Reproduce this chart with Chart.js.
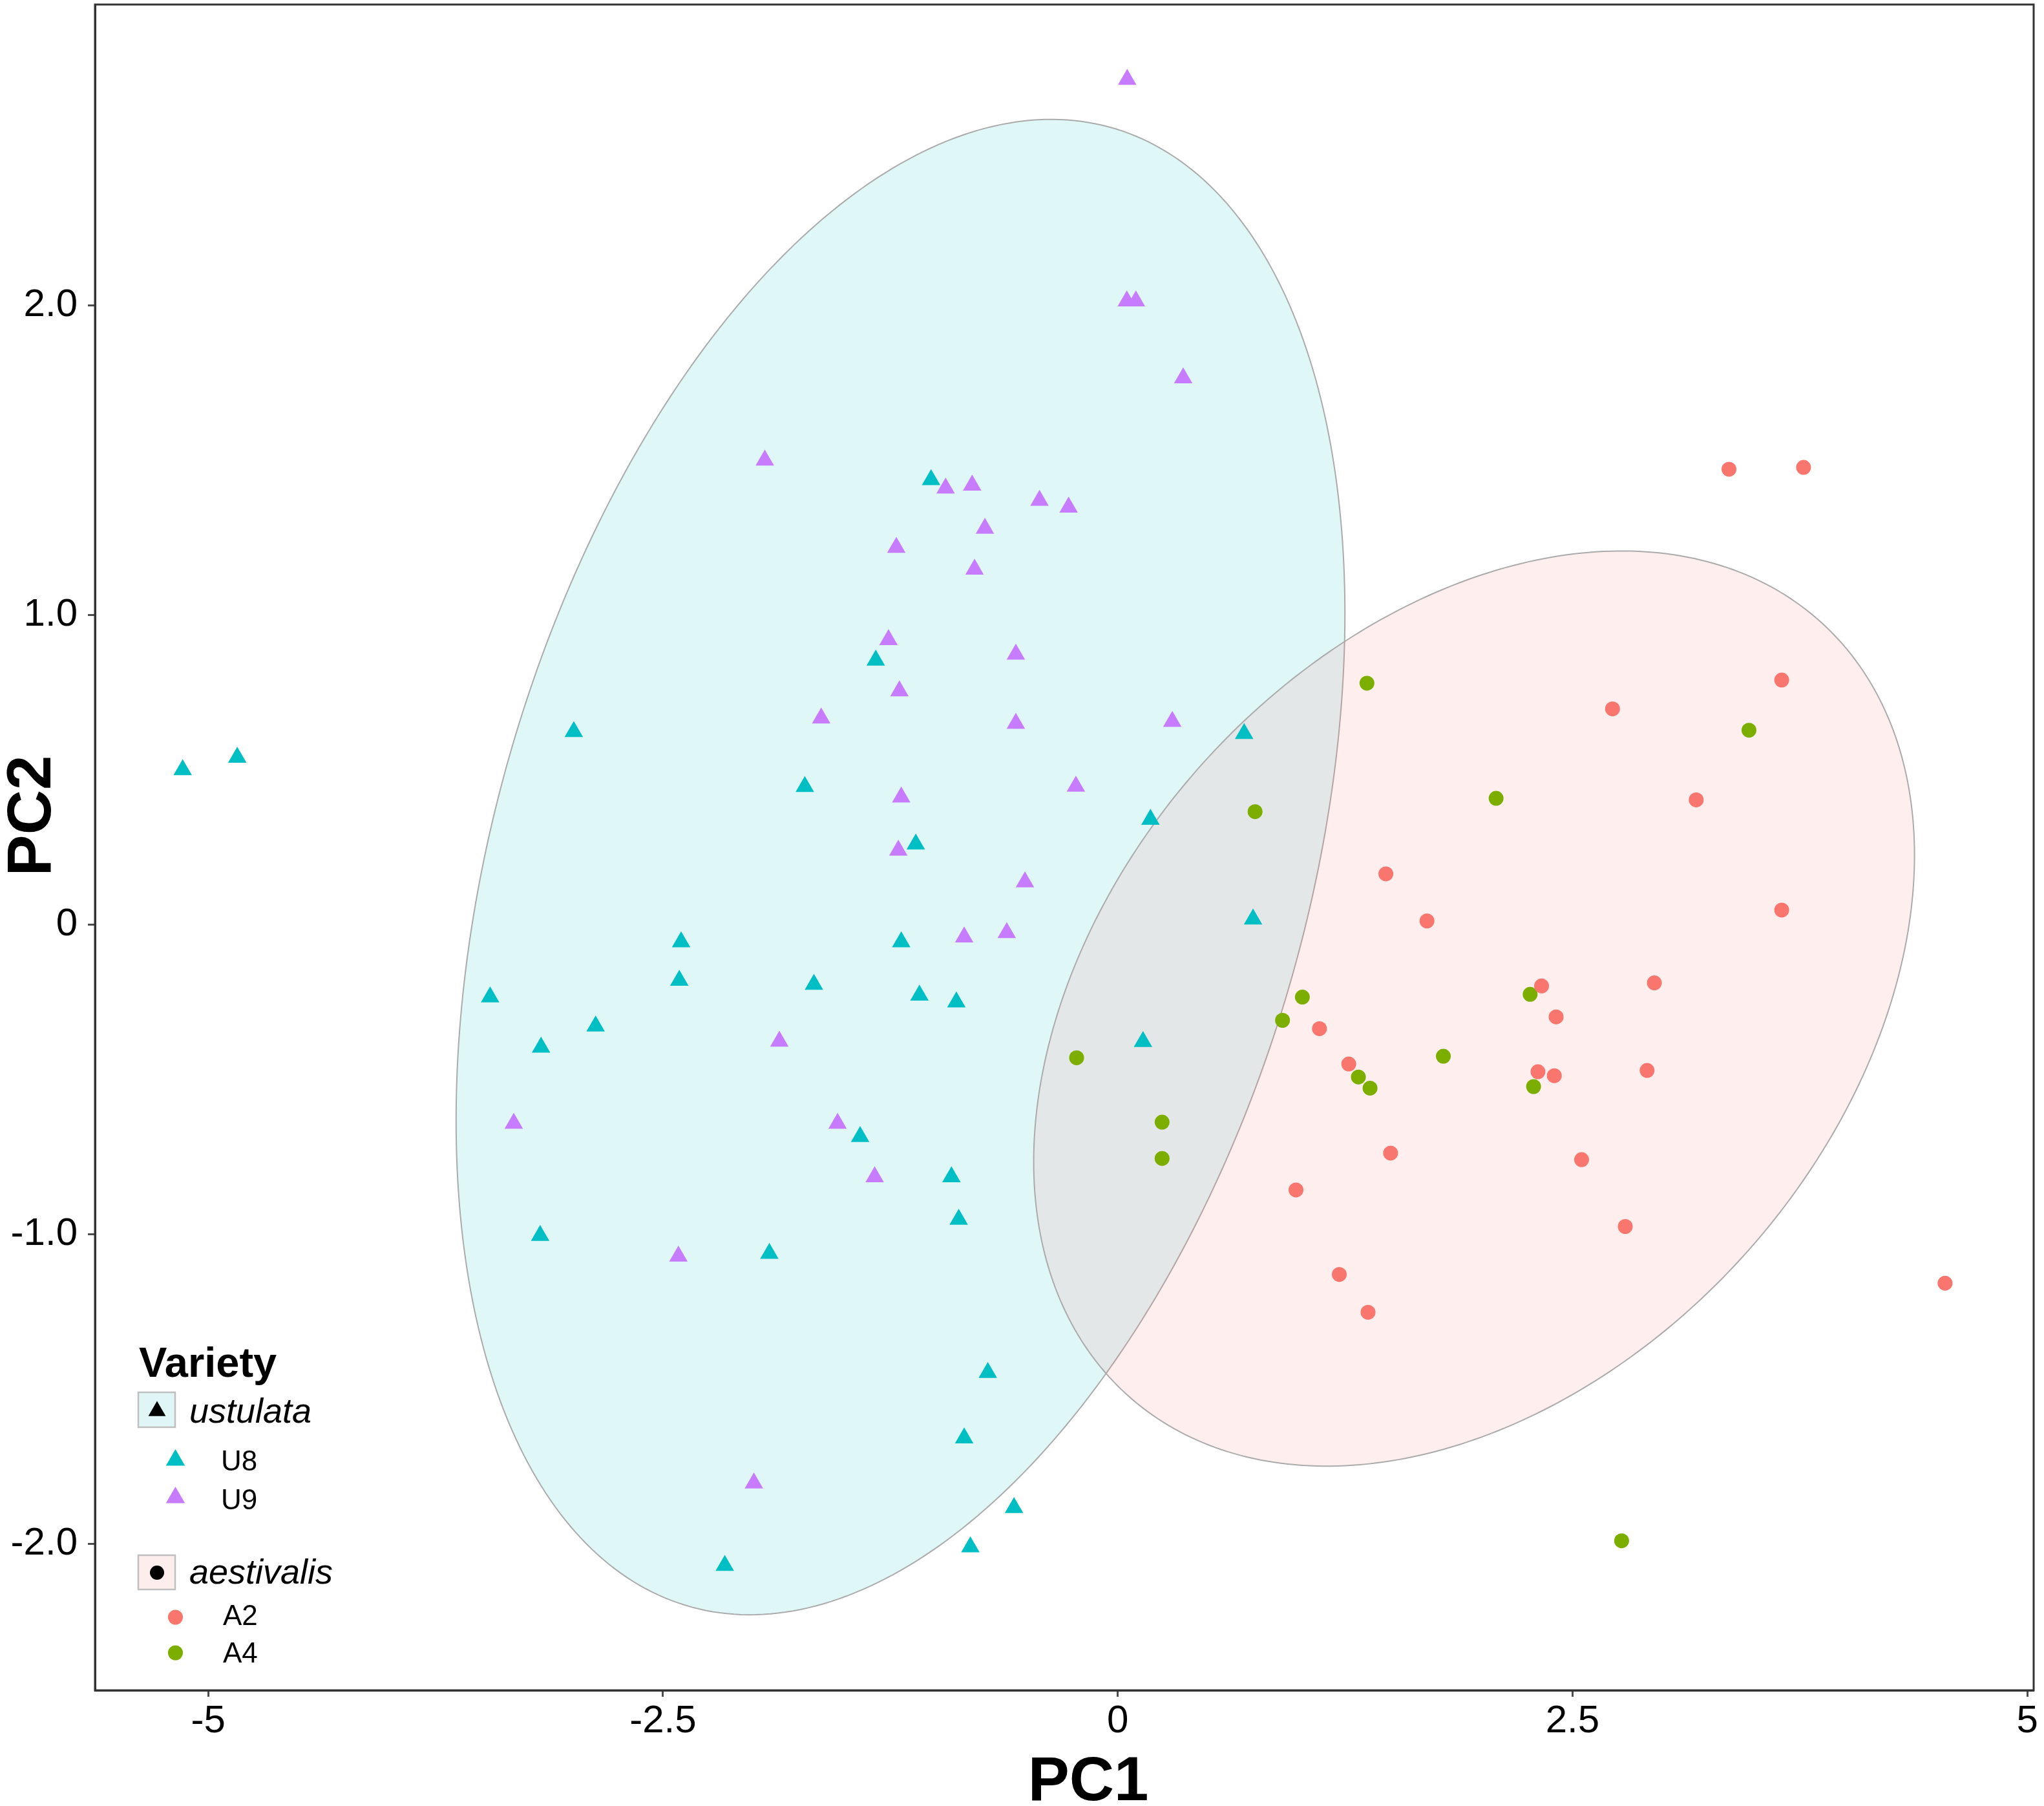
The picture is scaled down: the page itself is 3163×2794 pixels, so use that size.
<!DOCTYPE html>
<html>
<head>
<meta charset="utf-8">
<script src="https://cdn.jsdelivr.net/npm/chart.js@4.4.1/dist/chart.umd.min.js"></script>
<style>
html,body{margin:0;padding:0;background:#fff;}
canvas{display:block;}
</style>
</head>
<body>
<canvas id="c" width="3163" height="2794" style="width:3163px;height:2794px"></canvas>
<script>
// ---------- data ----------
const xTicks = [-5, -2.5, 0, 2.5, 5];
const xTickLabels = ['-5', '-2.5', '0', '2.5', '5'];
const yTicks = [-2, -1, 0, 1, 2];
const yTickLabels = ['-2.0', '-1.0', '0', '1.0', '2.0'];
const xTitle = 'PC1';
const yTitle = 'PC2';
const legendTitle = 'Variety';
const groupNames = ['ustulata', 'aestivalis'];
const seriesNames = ['U8', 'U9', 'A2', 'A4'];

const u8Points = [[-5.14,0.50],[-4.84,0.54],[-2.99,0.623],[-3.45,-0.234],[-3.17,-0.396],[-2.87,-0.328],
  [-3.175,-1.004],[-2.40,-0.056],[-2.41,-0.18],[-1.72,0.446],[-1.67,-0.193],[-1.915,-1.062],[-2.16,-2.07],
  [-1.416,-0.685],[-1.33,0.854],[-1.026,1.437],[-1.11,0.26],[-1.19,-0.056],[-1.09,-0.228],[-0.887,-0.25],
  [-0.914,-0.815],[-0.874,-0.952],[-0.714,-1.447],[-0.844,-1.658],[-0.81,-2.01],[-0.57,-1.883],
  [0.18,0.34],[0.139,-0.378],[0.695,0.617],[0.744,0.018]];
const u9Points = [[0.052,2.73],[0.05,2.014],[0.10,2.014],[0.36,1.766],[-1.94,1.50],[-0.946,1.41],[-0.80,1.419],
  [-0.43,1.37],[-0.27,1.348],[-0.73,1.28],[-1.217,1.218],[-0.787,1.148],[-1.26,0.92],[-0.56,0.873],[-1.20,0.755],
  [-1.63,0.667],[-0.56,0.65],[0.30,0.656],[-1.19,0.412],[-0.23,0.447],[-1.206,0.24],[-0.51,0.138],[-0.844,-0.04],
  [-0.61,-0.026],[-1.86,-0.377],[-3.32,-0.642],[-1.54,-0.642],[-1.336,-0.815],[-2.415,-1.071],[-2.0,-1.804]];
const a2Points = [[3.36,1.471],[3.77,1.477],[2.72,0.697],[3.65,0.79],[3.18,0.403],[1.474,0.164],[1.70,0.012],
  [3.65,0.047],[2.33,-0.198],[2.41,-0.298],[2.95,-0.188],[1.109,-0.336],[1.27,-0.45],[2.31,-0.475],[2.40,-0.488],
  [2.91,-0.471],[1.50,-0.738],[2.55,-0.759],[0.98,-0.857],[2.79,-0.975],[1.218,-1.13],[1.376,-1.252],[4.548,-1.158]];
const a4Points = [[1.37,0.78],[3.47,0.628],[2.08,0.408],[0.755,0.365],[1.015,-0.234],[0.906,-0.309],[2.267,-0.225],
  [1.79,-0.425],[-0.226,-0.43],[1.323,-0.492],[1.387,-0.528],[2.286,-0.523],[0.244,-0.638],[0.244,-0.755],[2.77,-1.99]];

// ellipse: [centerX, centerY, halfWidthX, halfHeightY, correlation]
const ustulataEllipse = [-1.194, 0.186, 2.443, 2.415, 0.339];
const aestivalisEllipse = [1.959, -0.271, 2.421, 1.478, 0.335];

// ---------- styles ----------
const FONT = "'Liberation Sans', Arial, Helvetica, sans-serif";
const COL = {U8:'#00BFC4', U9:'#C77CFF', A2:'#F8766D', A4:'#7CAE00'};
const toXY = arr => arr.map(p => ({x:p[0], y:p[1]}));

function ellipsePath(chart, p) {
  const sx = chart.scales.x, sy = chart.scales.y, ctx = chart.ctx;
  const [cx, cy, ax, ay, rho] = p;
  const q = Math.sqrt(1 - rho * rho);
  ctx.beginPath();
  for (let i = 0; i <= 360; i++) {
    const t = i * Math.PI / 180;
    const px = sx.getPixelForValue(cx + ax * Math.cos(t));
    const py = sy.getPixelForValue(cy + ay * (rho * Math.cos(t) + q * Math.sin(t)));
    if (i === 0) ctx.moveTo(px, py); else ctx.lineTo(px, py);
  }
  ctx.closePath();
}

const ellipsePlugin = {
  id: 'ellipses',
  beforeDatasetsDraw(chart) {
    const ctx = chart.ctx, a = chart.chartArea;
    ctx.save();
    ctx.beginPath(); ctx.rect(a.left, a.top, a.right - a.left, a.bottom - a.top); ctx.clip();
    [[ustulataEllipse, 'rgba(0,191,196,0.12)'], [aestivalisEllipse, 'rgba(248,118,109,0.12)']].forEach(([p, f]) => {
      ellipsePath(chart, p);
      ctx.fillStyle = f; ctx.fill();
      ctx.strokeStyle = '#ababab'; ctx.lineWidth = 2; ctx.stroke();
    });
    ctx.restore();
  }
};

function tri(ctx, x, y, r, color) {
  ctx.beginPath();
  for (let k = 0; k < 3; k++) {
    const ang = k * 2 * Math.PI / 3;
    const px = x + Math.sin(ang) * r, py = y - Math.cos(ang) * r;
    if (k === 0) ctx.moveTo(px, py); else ctx.lineTo(px, py);
  }
  ctx.closePath(); ctx.fillStyle = color; ctx.fill();
}
function dot(ctx, x, y, r, color) {
  ctx.beginPath(); ctx.arc(x, y, r, 0, Math.PI * 2); ctx.fillStyle = color; ctx.fill();
}

const decorPlugin = {
  id: 'decor',
  afterDraw(chart) {
    const ctx = chart.ctx, a = chart.chartArea;
    ctx.save();
    // panel border
    ctx.strokeStyle = '#333'; ctx.lineWidth = 3;
    ctx.strokeRect(a.left, a.top, a.right - a.left, a.bottom - a.top);
    // axis titles
    ctx.fillStyle = '#000';
    ctx.font = 'bold 96px ' + FONT;
    ctx.textAlign = 'center'; ctx.textBaseline = 'alphabetic';
    ctx.fillText(xTitle, 1684, 2785);
    ctx.save();
    ctx.translate(78, 1262); ctx.rotate(-Math.PI / 2);
    ctx.fillText(yTitle, 0, 0);
    ctx.restore();
    // legend
    ctx.textAlign = 'left';
    ctx.font = 'bold 65px ' + FONT;
    ctx.fillText(legendTitle, 215, 2130);
    // group key boxes
    ctx.lineWidth = 2.5; ctx.strokeStyle = '#bfbfbf';
    ctx.fillStyle = '#e0f5f6'; ctx.fillRect(214, 2154, 57, 54); ctx.strokeRect(214, 2154, 57, 54);
    tri(ctx, 243, 2183, 15.5, '#000');
    ctx.fillStyle = '#fdeeed'; ctx.fillRect(214, 2406, 57, 53); ctx.strokeRect(214, 2406, 57, 53);
    dot(ctx, 243, 2433, 11, '#000');
    ctx.fillStyle = '#000';
    ctx.font = 'italic 54px ' + FONT;
    ctx.fillText(groupNames[0], 293, 2201);
    ctx.fillText(groupNames[1], 293, 2450);
    // series keys
    tri(ctx, 271.5, 2259, 17, COL.U8);
    tri(ctx, 271.5, 2317, 17, COL.U9);
    dot(ctx, 271.5, 2502, 11.5, COL.A2);
    dot(ctx, 271.5, 2557, 11.5, COL.A4);
    ctx.fillStyle = '#000';
    ctx.font = '44px ' + FONT;
    ctx.fillText(seriesNames[0], 342, 2275);
    ctx.fillText(seriesNames[1], 342, 2335);
    ctx.fillText(seriesNames[2], 345, 2514);
    ctx.fillText(seriesNames[3], 345, 2572);
    ctx.restore();
  }
};

const zeroPad = s => { s.paddingTop = 0; s.paddingBottom = 0; s.paddingLeft = 0; s.paddingRight = 0; };

const axisCommon = {
  type: 'linear',
  border: {display: true, color: '#333', width: 3},
  grid: {drawOnChartArea: false, drawTicks: true, color: '#4d4d4d', tickColor: '#4d4d4d', tickWidth: 3},
  title: {display: false}
};

new Chart(document.getElementById('c'), {
  type: 'scatter',
  data: {
    datasets: [
      {label: seriesNames[0], data: toXY(u8Points), pointStyle: 'triangle', pointRadius: 16.5, pointHoverRadius: 16.5, backgroundColor: COL.U8, borderWidth: 0},
      {label: seriesNames[1], data: toXY(u9Points), pointStyle: 'triangle', pointRadius: 16.5, pointHoverRadius: 16.5, backgroundColor: COL.U9, borderWidth: 0},
      {label: seriesNames[2], data: toXY(a2Points), pointStyle: 'circle', pointRadius: 11.5, pointHoverRadius: 11.5, backgroundColor: COL.A2, borderWidth: 0},
      {label: seriesNames[3], data: toXY(a4Points), pointStyle: 'circle', pointRadius: 11.5, pointHoverRadius: 11.5, backgroundColor: COL.A4, borderWidth: 0}
    ]
  },
  options: {
    responsive: false,
    animation: false,
    devicePixelRatio: 1,
    layout: {autoPadding: false, padding: {top: 7, right: 16, left: 0, bottom: 0}},
    plugins: {legend: {display: false}, tooltip: {enabled: false}},
    scales: {
      x: Object.assign({}, axisCommon, {
        min: -5.622, max: 5.035,
        grid: Object.assign({}, axisCommon.grid, {tickLength: 10}),
        afterBuildTicks: s => { s.ticks = xTicks.map(v => ({value: v})); },
        afterFit: s => { s.height = 179; zeroPad(s); },
        ticks: {autoSkip: false, maxRotation: 0, padding: 2, color: '#000',
          font: {family: FONT, size: 60},
          callback: v => xTickLabels[xTicks.indexOf(v)]}
      }),
      y: Object.assign({}, axisCommon, {
        min: -2.473, max: 2.972,
        grid: Object.assign({}, axisCommon.grid, {tickLength: 11}),
        afterBuildTicks: s => { s.ticks = yTicks.map(v => ({value: v})); },
        afterFit: s => { s.width = 147; zeroPad(s); },
        ticks: {autoSkip: false, padding: 16, color: '#000',
          font: {family: FONT, size: 60},
          callback: v => yTickLabels[yTicks.indexOf(v)]}
      })
    }
  },
  plugins: [ellipsePlugin, decorPlugin]
});
</script>
</body>
</html>
